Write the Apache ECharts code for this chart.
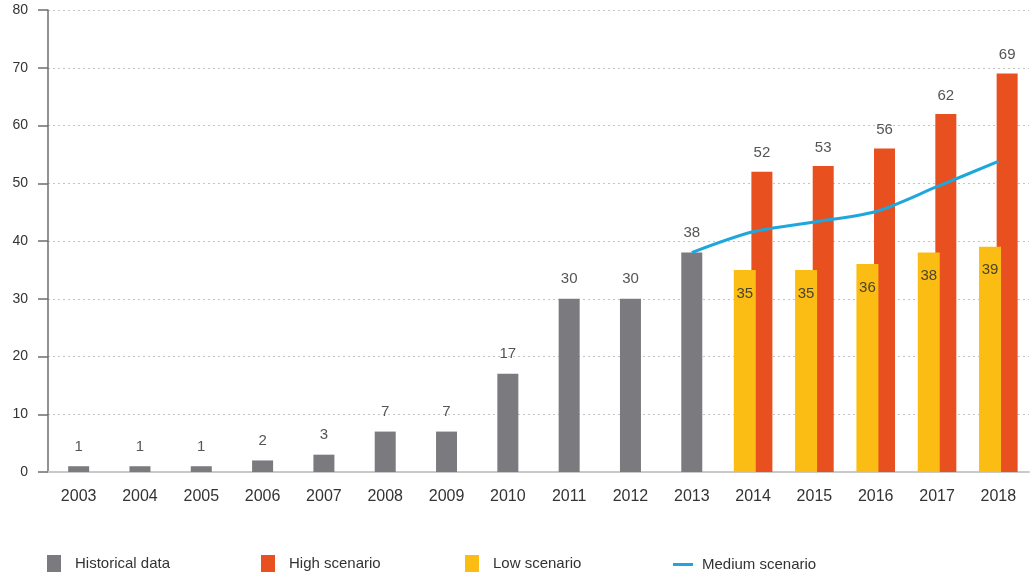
<!DOCTYPE html>
<html>
<head>
<meta charset="utf-8">
<script src="https://cdn.jsdelivr.net/npm/echarts@6/dist/echarts.min.js"></script>
<style>
  html, body { margin: 0; padding: 0; background: #fff; }
  #chart { width: 1035px; height: 581px; }
</style>
</head>
<body>
<div id="chart"></div>
<script>
// Years on the horizontal axis
const years = ['2003','2004','2005','2006','2007','2008','2009','2010','2011','2012','2013','2014','2015','2016','2017','2018'];
// Historical values (2003-2013)
const historical = [1, 1, 1, 2, 3, 7, 7, 17, 30, 30, 38, null, null, null, null, null];
// Scenario values (2014-2018)
const highScenario = [null, null, null, null, null, null, null, null, null, null, null, 52, 53, 56, 62, 69];
const lowScenario = [null, null, null, null, null, null, null, null, null, null, null, 35, 35, 36, 38, 39];
const mediumScenario = [null, null, null, null, null, null, null, null, null, null, 38, 41.6, 43.3, 45.1, 49.4, 53.8];
// Value axis ticks
const yTicks = { min: 0, max: 80, interval: 10 };

const FONT = "'Liberation Sans', Arial, sans-serif";
const colors = { hist: '#7b7b7f', high: '#e8501f', low: '#fbbd14', med: '#1fa7dd' };

const chart = echarts.init(document.getElementById('chart'), null, { renderer: 'canvas' });

const legendText = { fontFamily: FONT, fontSize: 15, color: '#333', padding: [0, 0, 0, 9] };
const legendBase = {
  top: 555,
  padding: 0,
  itemWidth: 14,
  itemHeight: 17,
  icon: 'rect',
  textStyle: legendText,
  selectedMode: false
};

chart.setOption({
  animation: false,
  textStyle: { fontFamily: FONT },
  grid: { left: 48, right: 6, top: 10, bottom: 109, containLabel: false },
  legend: [
    Object.assign({}, legendBase, { left: 47, data: ['Historical data'] }),
    Object.assign({}, legendBase, { left: 261, data: ['High scenario'] }),
    Object.assign({}, legendBase, { left: 465, data: ['Low scenario'] }),
    Object.assign({}, legendBase, {
      left: 673, top: 557, itemWidth: 20, itemHeight: 3,
      textStyle: Object.assign({}, legendText, { padding: [0, 0, 0, 4] }),
      data: ['Medium scenario']
    })
  ],
  xAxis: [
    {
      type: 'category',
      data: years,
      axisLine: { lineStyle: { color: '#c9c9c9', width: 2 } },
      axisTick: { show: false },
      axisLabel: { color: '#333', fontSize: 16, margin: 17 }
    },
    {
      type: 'category',
      data: years,
      show: false
    }
  ],
  yAxis: {
    type: 'value',
    min: yTicks.min,
    max: yTicks.max,
    interval: yTicks.interval,
    axisLine: { show: true, lineStyle: { color: '#6e6e6e', width: 1.5 } },
    axisTick: { show: true, length: 10, lineStyle: { color: '#6e6e6e', width: 1.5 } },
    axisLabel: { color: '#333', fontSize: 14, margin: 20 },
    splitLine: { show: true, lineStyle: { color: '#c4c4c4', type: [2, 3], width: 1 } }
  },
  series: [
    {
      name: 'Historical data',
      type: 'bar',
      xAxisIndex: 0,
      data: historical,
      barWidth: 21,
      itemStyle: { color: colors.hist },
      label: { show: true, position: 'top', distance: 12, color: '#555', fontSize: 15 }
    },
    {
      name: 'Low scenario',
      type: 'bar',
      xAxisIndex: 1,
      data: lowScenario,
      barWidth: 22,
      barGap: '-20%',
      z: 3,
      itemStyle: { color: colors.low },
      label: { show: true, position: 'insideTop', distance: 16, color: '#4a4430', fontSize: 15 }
    },
    {
      name: 'High scenario',
      type: 'bar',
      xAxisIndex: 1,
      data: highScenario,
      barWidth: 21,
      barGap: '-20%',
      z: 2,
      itemStyle: { color: colors.high },
      label: { show: true, position: 'top', distance: 11, color: '#555', fontSize: 15 }
    },
    {
      name: 'Medium scenario',
      type: 'line',
      xAxisIndex: 0,
      data: mediumScenario,
      smooth: 0.3,
      showSymbol: false,
      symbol: 'none',
      z: 4,
      lineStyle: { color: colors.med, width: 3 },
      itemStyle: { color: colors.med }
    }
  ]
});
</script>
</body>
</html>
